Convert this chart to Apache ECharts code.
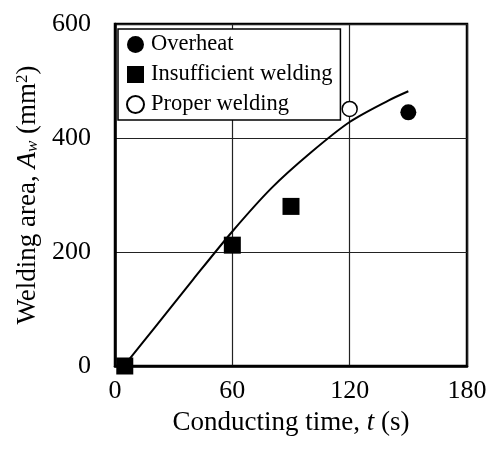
<!DOCTYPE html>
<html>
<head>
<meta charset="utf-8">
<script src="https://cdn.jsdelivr.net/npm/echarts@6/dist/echarts.min.js"></script>
<style>
  html, body { margin: 0; padding: 0; background: #fff; }
  #main { width: 499px; height: 449px; }
</style>
</head>
<body>
<div id="main"></div>
<script>
// measured points: [time (s), area (mm2)]
const overheat = [[150, 445]];
const insufficient = [[5, 0], [60, 212], [90, 280]];
const proper = [[120, 451]];
// fitted curve
const curveT = [5, 20, 40, 60, 80, 100, 120, 140, 150];
const curveA = [2, 66, 152, 236, 312, 374, 428, 466, 482];

const xTicks = [0, 60, 120, 180];
const yTicks = [0, 200, 400, 600];

let font = "Liberation Serif";
let chart = echarts.init(document.getElementById("main"));

let curve = curveT.map((t, i) => [t, curveA[i]]);

let option = {
  backgroundColor: "#fff",
  animation: false,
  textStyle: { fontFamily: font, color: "#000" },
  grid: {
    left: 115, right: 32, top: 24, bottom: 83,
    show: true, borderColor: "#000", borderWidth: 2.5
  },
  legend: {
    orient: "vertical",
    left: 118, top: 29,
    padding: [4, 8, 4, 8],
    itemGap: 7,
    itemWidth: 17, itemHeight: 17,
    borderColor: "#000", borderWidth: 1.5,
    backgroundColor: "#fff",
    textStyle: { fontFamily: font, fontSize: 22.5, color: "#000", lineHeight: 22, padding: [0, 0, 0, 2] },
    data: [
      { name: "Overheat", icon: "circle" },
      { name: "Insufficient welding", icon: "rect" },
      { name: "Proper welding", icon: "circle" }
    ]
  },
  xAxis: {
    type: "value",
    min: xTicks[0], max: xTicks[xTicks.length - 1], interval: 60,
    name: "Conducting time, {i|t} (s)",
    nameLocation: "middle",
    nameGap: 43,
    nameTextStyle: {
      fontFamily: font, fontSize: 27, color: "#000",
      rich: { i: { fontFamily: font, fontSize: 27, fontStyle: "italic", color: "#000" } }
    },
    axisLine: { lineStyle: { color: "#000", width: 2.5 } },
    axisTick: { show: false },
    axisLabel: { fontFamily: font, fontSize: 26, color: "#000", margin: 12 },
    splitLine: { lineStyle: { color: "#222", width: 1.2 } }
  },
  yAxis: {
    type: "value",
    min: yTicks[0], max: yTicks[yTicks.length - 1], interval: 200,
    name: "Welding area, {i|A}{sub|w} (mm{sup|2})",
    nameLocation: "middle",
    nameRotate: 90,
    nameGap: 69,
    nameTextStyle: {
      fontFamily: font, fontSize: 27, color: "#000",
      rich: {
        i: { fontFamily: font, fontSize: 27, fontStyle: "italic", color: "#000" },
        sub: { fontFamily: font, fontSize: 17, fontStyle: "italic", color: "#000", verticalAlign: "bottom", padding: [10, 0, 0, 0] },
        sup: { fontFamily: font, fontSize: 17, color: "#000", verticalAlign: "top", padding: [0, 0, 10, 0] }
      }
    },
    axisLine: { lineStyle: { color: "#000", width: 2.5 } },
    axisTick: { show: false },
    axisLabel: { fontFamily: font, fontSize: 26, color: "#000", margin: 24 },
    splitLine: { lineStyle: { color: "#222", width: 1.2 } }
  },
  series: [
    {
      name: "curve",
      type: "line",
      data: curve,
      smooth: 0.3,
      showSymbol: false,
      lineStyle: { color: "#000", width: 2 },
      z: 2
    },
    {
      name: "Overheat",
      type: "scatter",
      symbol: "circle",
      symbolSize: 16,
      data: overheat,
      itemStyle: { color: "#000", opacity: 1 },
      z: 5
    },
    {
      name: "Insufficient welding",
      type: "scatter",
      symbol: "rect",
      symbolSize: 17,
      data: insufficient,
      itemStyle: { color: "#000", opacity: 1 },
      z: 5
    },
    {
      name: "Proper welding",
      type: "scatter",
      symbol: "circle",
      symbolSize: 15,
      data: proper,
      itemStyle: { color: "#fff", borderColor: "#000", borderWidth: 1.5, opacity: 1 },
      z: 5
    }
  ]
};

chart.setOption(option);
</script>
</body>
</html>
